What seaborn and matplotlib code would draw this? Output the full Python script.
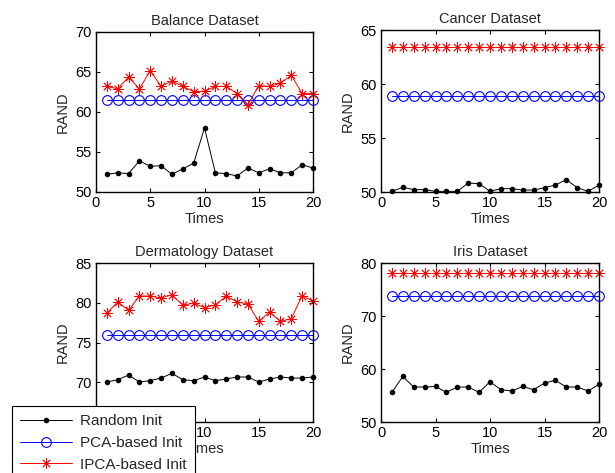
import numpy as np
import pandas as pd
import seaborn as sns
from matplotlib import pyplot as plt

times = list(range(1, 21))

# Balance dataset
balance_random = [52.2, 52.4, 52.3, 53.9, 53.2, 53.3, 52.2, 52.9, 53.6, 58.0,
                  52.4, 52.3, 52.0, 53.0, 52.4, 52.9, 52.4, 52.4, 53.4, 53.0]
balance_pca = [61.5] * 20
balance_ipca = [63.2, 62.9, 64.35, 62.9, 65.15, 63.2, 63.9, 63.2, 62.55, 62.6,
                63.2, 63.2, 62.3, 60.9, 63.3, 63.2, 63.6, 64.6, 62.3, 62.3]

# Cancer dataset
cancer_random = [50.06, 50.43, 50.22, 50.22, 50.06, 50.06, 50.06, 50.83, 50.77, 50.06,
                 50.31, 50.31, 50.18, 50.18, 50.4, 50.65, 51.14, 50.4, 50.06, 50.65]
cancer_pca = [58.87] * 20
cancer_ipca = [63.46] * 20

# Dermatology dataset
derm_random = [70.03, 70.32, 70.91, 70.03, 70.2, 70.53, 71.12, 70.32, 70.2, 70.66,
               70.2, 70.41, 70.66, 70.66, 70.03, 70.41, 70.66, 70.53, 70.53, 70.66]
derm_pca = [75.95] * 20
derm_ipca = [78.7, 80.1, 79.05, 80.85, 80.85, 80.6, 81.0, 79.7, 79.95, 79.4,
             79.7, 80.85, 80.1, 79.85, 77.65, 78.85, 77.65, 78.0, 80.9, 80.2]

# Iris dataset
iris_random = [55.6, 58.6, 56.6, 56.6, 56.7, 55.6, 56.6, 56.6, 55.6, 57.6,
               56.1, 55.85, 56.7, 56.1, 57.35, 57.85, 56.6, 56.6, 55.85, 57.1]
iris_pca = [73.84] * 20
iris_ipca = [78.1] * 20

titles = ['Balance Dataset', 'Cancer Dataset', 'Dermatology Dataset', 'Iris Dataset']
series = [(balance_random, balance_pca, balance_ipca),
          (cancer_random, cancer_pca, cancer_ipca),
          (derm_random, derm_pca, derm_ipca),
          (iris_random, iris_pca, iris_ipca)]
ylims = [(50, 70), (50, 65), (65, 85), (50, 80)]
yticks = [[50, 55, 60, 65, 70], [50, 55, 60, 65], [70, 75, 80, 85], [50, 60, 70, 80]]
labels = ['Random Init', 'PCA-based Init', 'IPCA-based Init']

sns.set_style('ticks')
plt.rcParams['font.family'] = ['Liberation Sans', 'DejaVu Sans']
plt.rcParams['font.size'] = 10

fig = plt.figure(figsize=(6.15, 4.73), dpi=100)
W, H = 615.0, 473.0
boxes = [(96, 32, 313, 192), (381, 30, 599, 192), (96, 263, 313, 422), (381, 263, 599, 422)]

star = (8, 2, 0)
for i in range(4):
    x0, y0, x1, y1 = boxes[i]
    ax = fig.add_axes([x0 / W, 1 - y1 / H, (x1 - x0) / W, (y1 - y0) / H])
    rnd, pca, ipca = series[i]
    df = pd.DataFrame({'Times': times, 'Random': rnd, 'PCA': pca, 'IPCA': ipca})
    sns.lineplot(data=df, x='Times', y='Random', ax=ax, color='black', lw=0.7,
                 marker='o', markersize=4, markeredgewidth=0, label=labels[0],
                 legend=False, clip_on=False)
    sns.lineplot(data=df, x='Times', y='PCA', ax=ax, color='blue', lw=0.7,
                 marker='o', markersize=7, markerfacecolor='none', markeredgecolor='blue',
                 markeredgewidth=0.8, label=labels[1], legend=False, clip_on=False)
    sns.lineplot(data=df, x='Times', y='IPCA', ax=ax, color='red', lw=0.7,
                 marker=star, markersize=7.5, markeredgecolor='red', markeredgewidth=0.6,
                 label=labels[2], legend=False, clip_on=False)
    ax.set_xlim(0, 20)
    ax.set_ylim(*ylims[i])
    ax.set_xticks([0, 5, 10, 15, 20])
    ax.set_yticks(yticks[i])
    ax.set_xlabel('Times', fontsize=10.5, labelpad=1)
    ax.set_ylabel('RAND', fontsize=10.5)
    ax.set_title(titles[i], fontsize=10.5, pad=5)
    ax.tick_params(direction='in', top=True, right=True, length=3, width=0.8,
                   labelsize=10.5, colors='black', pad=3)
    for s in ax.spines.values():
        s.set_visible(True)
        s.set_linewidth(1.0)
        s.set_color('black')
    if i == 0:
        handles, _ = ax.get_legend_handles_labels()

leg = fig.legend(handles, labels, loc='upper left', bbox_to_anchor=(12 / W, 1 - 406 / H),
                 fontsize=11, frameon=True, fancybox=False, framealpha=1, edgecolor='black',
                 handlelength=3.4, handletextpad=0.5, borderpad=0.55, labelspacing=0.5,
                 borderaxespad=0)
leg.get_frame().set_linewidth(0.8)
leg.set_zorder(10)

fig.savefig('out.png', dpi=100)
